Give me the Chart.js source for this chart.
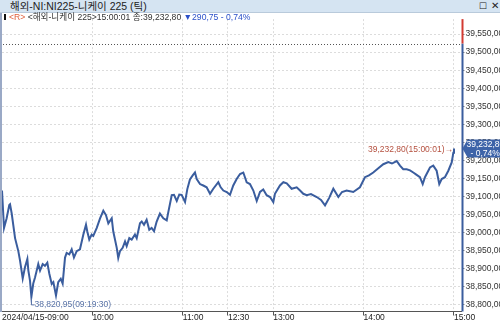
<!DOCTYPE html>
<html>
<head>
<meta charset="utf-8">
<script src="https://cdn.jsdelivr.net/npm/chart.js@4.4.1/dist/chart.umd.min.js"></script>
<style>
html, body { margin: 0; padding: 0; background: #fff; width: 500px; height: 322px; overflow: hidden;
  font-family: "Liberation Sans", "Noto Sans CJK KR", sans-serif; }
#titlebar { position: absolute; left: 0; top: 0; width: 500px; height: 12px; background: #d5e4f2;
  border-bottom: 1px solid #b9cadb; font-size: 10.5px; line-height: 12px; color: #222; }
#titlebar .t { position: absolute; left: 10px; top: 0; }
#titlebar .b1 { position: absolute; left: 479px; top: 0; font-size: 9px; }
#titlebar .b2 { position: absolute; left: 491px; top: 0; font-size: 10px; }
#info { position: absolute; left: 4px; top: 12px; font-size: 8.6px; line-height: 11px; color: #333; white-space: nowrap; z-index: 2; }
#info .mk { display: inline-block; width: 2px; height: 6px; background: #111; margin-right: 3px; vertical-align: 0px; }
#info .r { color: #e0603c; }
#info .dn { color: #2a4fc8; }
#leftbar { position: absolute; left: 0; top: 13px; width: 2px; height: 299px; background: #9aa9c6; z-index: 2; }
#wrap { position: absolute; left: 0; top: 13px; width: 500px; height: 309px; }
</style>
</head>
<body>
<div id="titlebar"><span class="t">해외-NI:NI225-니케이 225 (틱)</span><span class="b1">☐</span><span class="b2">✕</span></div>
<div id="info"><span class="mk"></span><span class="r">&lt;R&gt;</span> <span id="infoMain"></span> <span class="dn" id="infoChg"></span></div>
<div id="leftbar"></div>
<div id="wrap"><canvas id="chart" width="500" height="309"></canvas></div>
<script>
// 니케이 225 tick chart, 2024/04/15
const prevClose = 39523.55;

const times = [
  "09:00:00","09:01:20","09:03:05","09:04:50","09:05:20","09:06:25","09:08:40","09:10:50","09:12:00","09:13:45",
  "09:15:15","09:16:50","09:17:30","09:18:35","09:19:30","09:20:45","09:21:55","09:24:05","09:25:15","09:27:00",
  "09:28:30","09:30:05","09:31:25","09:33:00","09:34:05","09:35:50","09:37:20","09:39:00","09:40:15","09:41:50",
  "09:42:55","09:44:40","09:46:15","09:47:45","09:49:35","09:51:45","09:54:00","09:55:45","09:56:35","09:57:55",
  "09:59:30","10:00:35","10:02:50","10:05:05","10:07:15","10:09:00","10:10:35","10:12:50","10:13:50","10:16:10",
  "10:17:10","10:18:20","10:20:05","10:21:40","10:22:45","10:24:30","10:26:05","10:28:15","10:29:25","10:31:35",
  "10:32:45","10:34:15","10:36:00","10:37:45","10:39:20","10:40:55","10:42:40","10:44:50","10:47:05","10:49:20",
  "10:50:25","10:52:40","10:54:10","10:56:00","10:57:40","10:59:15","11:01:30","11:03:00","11:04:45","11:06:35",
  "11:08:05","11:09:15","11:11:25","11:13:35","11:15:50","11:18:05","11:20:15","11:23:35","11:25:10","11:26:55",
  "11:29:10","12:31:20","12:33:30","12:35:45","12:38:00","12:40:10","12:42:25","12:44:35","12:46:50","12:49:05",
  "12:51:15","12:53:25","12:55:40","12:57:55","13:00:05","13:01:10","13:04:30","13:06:45","13:09:00","13:12:15",
  "13:15:35","13:17:50","13:20:00","13:22:15","13:25:05","13:28:55","13:31:45","13:34:25","13:37:05","13:39:55",
  "13:43:15","13:45:40","13:48:45","13:53:10","13:57:35","14:00:55","14:03:35","14:06:25","14:09:35","14:13:05",
  "14:16:25","14:18:50","14:22:00","14:24:10","14:26:20","14:28:35","14:30:50","14:33:00","14:34:45","14:37:25",
  "14:39:15","14:40:45","14:44:05","14:46:15","14:48:30","14:50:15","14:51:50","14:54:00","14:56:15","14:58:30",
  "14:59:35","15:00:01"
];

const prices = [
  39116, 39012, 39039, 39076, 39078, 39053, 38984, 38948, 38921, 38872,
  38903, 38926, 38894, 38866, 38820.95, 38858, 38875, 38912, 38894, 38912,
  38907, 38916, 38885, 38857, 38862, 38825, 38862, 38871, 38858, 38930,
  38943, 38939, 38953, 38930, 38948, 38953, 38994, 39021, 39003, 38980,
  38994, 38990, 39012, 39039, 39060, 39048, 39025, 39039, 39003, 38957,
  38929, 38948, 38957, 38975, 38962, 38984, 38980, 38994, 38984, 39025,
  39030, 39021, 39035, 39007, 39012, 39003, 39030, 39052, 39039, 39033,
  39057, 39103, 39104, 39087, 39105, 39104, 39084, 39120, 39147, 39158,
  39166, 39148, 39134, 39130, 39125, 39107, 39121, 39139, 39125, 39116,
  39112, 39104, 39130, 39148, 39162, 39166, 39139, 39134, 39116, 39087,
  39112, 39119, 39103, 39098, 39084, 39107, 39130, 39139, 39136, 39121,
  39125, 39116, 39107, 39103, 39106, 39098, 39090, 39075, 39095, 39121,
  39098, 39112, 39116, 39112, 39125, 39153, 39158, 39166, 39177, 39189,
  39195, 39191, 39198, 39185, 39175, 39175, 39172, 39166, 39161, 39153,
  39134, 39153, 39180, 39185, 39171, 39134, 39148, 39153, 39171, 39194,
  39221, 39232.80
];

const tickTimes = ["09:00", "10:00", "11:00", "12:30", "13:00", "14:00", "15:00"];
const tickLabels = ["2024/04/15-09:00", "10:00", "11:00", "12:30", "13:00", "14:00", "15:00"];
const yTicks = [38800, 38850, 38900, 38950, 39000, 39050, 39100, 39150, 39200, 39250,
                39300, 39350, 39400, 39450, 39500, 39550];

// trading minutes from 09:00, lunch break (11:30-12:30) removed
function tradeMin(t) {
  const p = t.split(":").map(Number);
  let m = p[0] * 60 + p[1] + (p[2] || 0) / 60 - 540;
  if (m > 150) m = Math.max(150, m - 60);
  return m;
}

function fmt(v) {
  return v.toLocaleString("en-US", { minimumFractionDigits: 2, maximumFractionDigits: 2 }).replace(".", "_")
    .replace("_", ",");
}

const last = prices[prices.length - 1];
const lastTime = times[times.length - 1];
const chg = last - prevClose;
const pct = chg / prevClose * 100;
document.getElementById("infoMain").textContent = "<해외-니케이 225>" + lastTime + " 종:" + fmt(last);
document.getElementById("infoChg").textContent = "▼" + fmt(Math.abs(chg)) + " - " + Math.abs(pct).toFixed(2).replace(".", ",") + "%";

const lowIdx = prices.indexOf(Math.min(...prices));

const LINE = "#3a5d9e";
const FONT = "Liberation Sans";

const overlay = {
  id: "overlay",
  beforeDatasetsDraw(chart) {
    const { ctx, chartArea, scales } = chart;
    const y = Math.round(scales.y.getPixelForValue(prevClose)) + 0.5;
    ctx.save();
    ctx.strokeStyle = "#555";
    ctx.lineWidth = 1;
    ctx.setLineDash([1, 2]);
    ctx.beginPath();
    ctx.moveTo(0, y);
    ctx.lineTo(chartArea.right, y);
    ctx.stroke();
    ctx.restore();
  },
  afterDraw(chart) {
    const { ctx, chartArea, scales } = chart;
    const x = scales.x, y = scales.y;
    const yPrev = y.getPixelForValue(prevClose);
    const ax = chartArea.right + 1;
    ctx.save();
    // right axis line: red above previous close, blue below
    ctx.lineWidth = 2;
    ctx.strokeStyle = "#d23a32";
    ctx.beginPath(); ctx.moveTo(ax, chartArea.top); ctx.lineTo(ax, yPrev); ctx.stroke();
    ctx.strokeStyle = LINE;
    ctx.beginPath(); ctx.moveTo(ax, yPrev); ctx.lineTo(ax, chartArea.bottom); ctx.stroke();

    ctx.font = "8.5px '" + FONT + "'";
    ctx.textBaseline = "middle";

    // low annotation
    const lx = Math.round(x.getPixelForValue(tradeMin(times[lowIdx]))) + 0.5;
    const ly = y.getPixelForValue(prices[lowIdx]);
    ctx.strokeStyle = "#5a74a8";
    ctx.lineWidth = 1;
    ctx.beginPath(); ctx.moveTo(lx, ly + 1.5); ctx.lineTo(lx, ly + 8); ctx.lineTo(lx + 3, ly + 8); ctx.stroke();
    ctx.fillStyle = "#5a74a8";
    ctx.textAlign = "left";
    ctx.fillText(fmt(prices[lowIdx]) + "(" + times[lowIdx] + ")", lx + 3, ly + 7.5);

    // last annotation
    const ex = x.getPixelForValue(tradeMin(lastTime));
    const ey = y.getPixelForValue(last);
    ctx.fillStyle = "#b4503f";
    ctx.textAlign = "right";
    ctx.fillText(fmt(last) + "(" + lastTime + ")→", ex - 1, ey + 1);

    // current value box on the axis
    ctx.fillStyle = "#3d63a8";
    ctx.beginPath();
    ctx.moveTo(ax, ey);
    ctx.lineTo(ax + 5, ey - 9);
    ctx.lineTo(500, ey - 9);
    ctx.lineTo(500, ey + 9);
    ctx.lineTo(ax + 5, ey + 9);
    ctx.closePath();
    ctx.fill();
    ctx.fillStyle = "#fff";
    ctx.textAlign = "left";
    ctx.fillText(fmt(last), ax + 4, ey - 4);
    ctx.fillText("- " + Math.abs(pct).toFixed(2).replace(".", ",") + "%", ax + 8, ey + 5);
    ctx.restore();
  }
};

new Chart(document.getElementById("chart"), {
  type: "line",
  data: {
    datasets: [{
      data: times.map((t, i) => ({ x: tradeMin(t), y: prices[i] })),
      borderColor: LINE,
      borderWidth: 2,
      pointRadius: 0,
      tension: 0,
      fill: false
    }]
  },
  options: {
    responsive: false,
    animation: false,
    events: [],
    layout: { padding: { left: 2, top: 1, right: 0, bottom: 0 } },
    plugins: { legend: { display: false }, tooltip: { enabled: false } },
    scales: {
      x: {
        type: "linear",
        min: 0,
        max: 305,
        afterBuildTicks: s => { s.ticks = tickTimes.map(t => ({ value: tradeMin(t) })); },
        afterFit: s => { s.height = 10.5; },
        ticks: {
          autoSkip: false,
          maxRotation: 0,
          align: "start",
          padding: -3,
          color: "#222",
          font: { family: FONT, size: 8.5 },
          callback: (v, i) => tickLabels[i]
        },
        grid: {
          color: c => c.index === 0 ? "rgba(0,0,0,0)" : "#dcdcdc",
          tickColor: c => c.index === 0 ? "rgba(0,0,0,0)" : "#555",
          tickLength: 4
        },
        border: { color: "#555", width: 1, dash: [2, 2] }
      },
      y: {
        position: "right",
        min: 38780.4,
        max: 39591.7,
        afterBuildTicks: s => { s.ticks = yTicks.map(v => ({ value: v })); },
        afterFit: s => { s.width = 38.5; },
        ticks: {
          padding: 1,
          color: "#333",
          font: { family: FONT, size: 8.5 },
          callback: v => fmt(v)
        },
        grid: { color: "#dcdcdc", tickColor: "#888", tickLength: 3 },
        border: { display: false, dash: [2, 2] }
      }
    }
  },
  plugins: [overlay]
});
</script>
</body>
</html>
